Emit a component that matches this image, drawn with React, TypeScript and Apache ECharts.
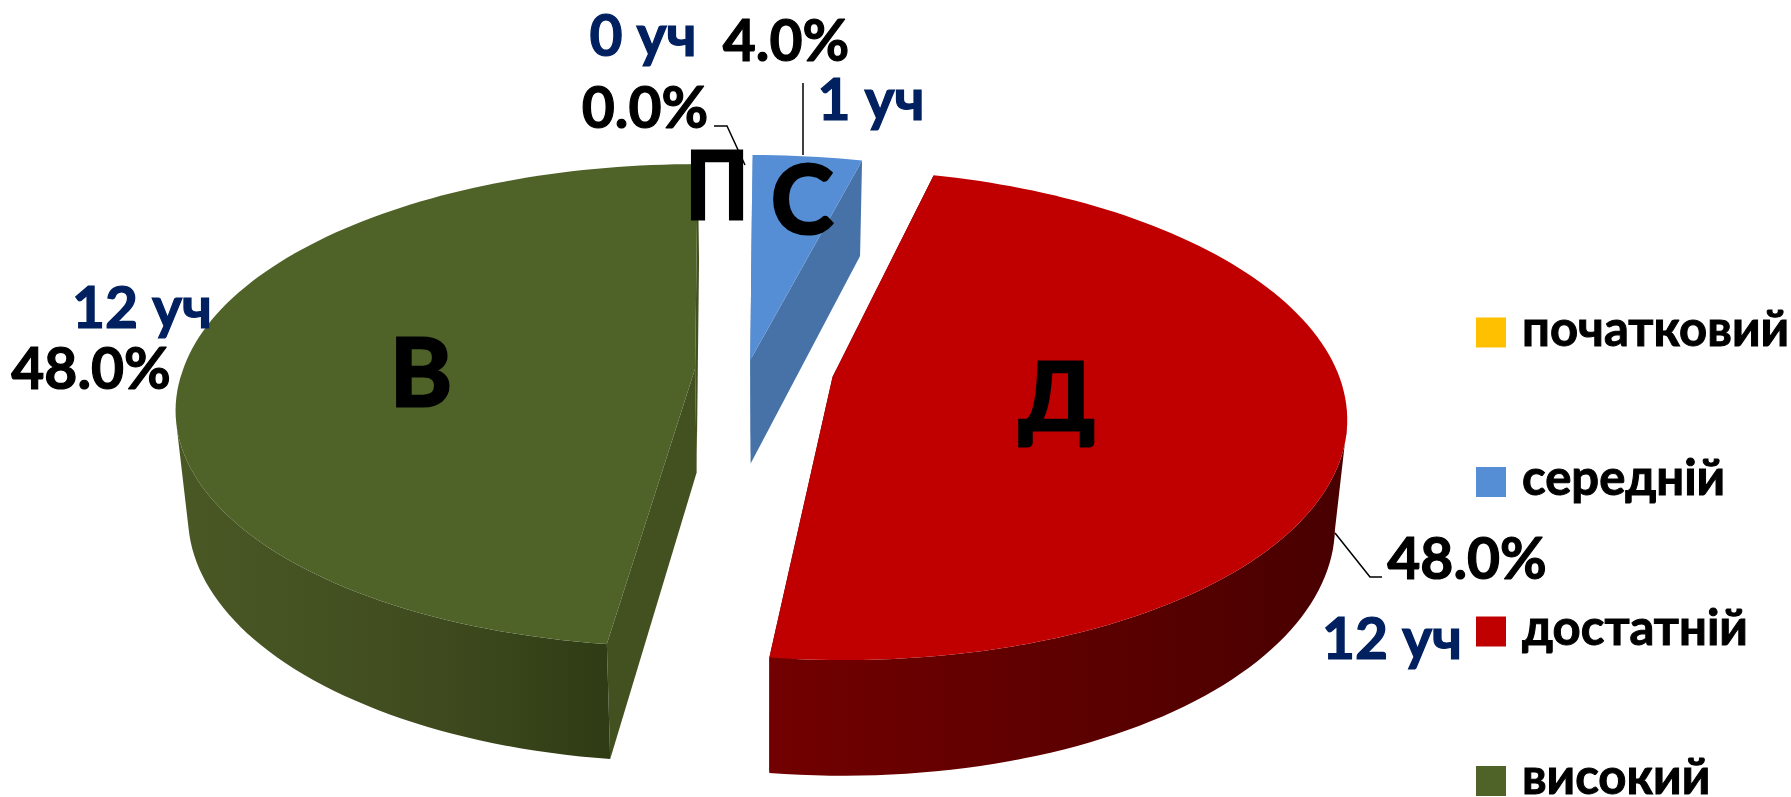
import React, { useEffect, useRef } from "react";
import * as echarts from "echarts";

const categories = ["високий", "достатній", "середній", "початковий"];
const legendOrder = ["початковий", "середній", "достатній", "високий"];
const counts = [12, 12, 1, 0];
const letters = ["В", "Д", "С", "П"];
const unit = "уч";

const FONT = "Lato, 'Open Sans', 'Noto Sans', sans-serif";
const NAVY = "#002060";
const colors = ["#4F6228", "#C00000", "#558ED5", "#FFC000"];
const faceColors = ["#435020", "#5a0000", "#4672A8", "#B38600"];
const wallStops: [string, string, string][] = [
  ["#4A5825", "#3F4B1E", "#2F3B14"],
  ["#720000", "#600000", "#480000"],
  ["#4672A8", "#4672A8", "#4672A8"],
  ["#B38600", "#B38600", "#B38600"],
];
// Placement of each exploded slice on the disc (radius units), its size factors and lean in px
const explode = [
  { du: -0.141, dv: -0.01, scaleU: 1.005, scaleV: 0.985, lean: 7 },
  { du: 0.128, dv: 0.025, scaleU: 0.99, scaleV: 0.99, lean: 0 },
  { du: -0.033, dv: -0.046, scaleU: 1, scaleV: 1, lean: 0 },
  { du: -0.05, dv: -0.04, scaleU: 1, scaleV: 1, lean: 0 },
];
const letterPos = [
  [421, 369],
  [1057, 393],
  [802, 196],
  [717, 183],
];
const letterScaleX = [1, 1, 1, 0.9];
const percentPos = [
  [91, 367],
  [1467, 557],
  [786, 39],
  [645, 106],
];
const countPos = [
  [142, 306],
  [1392, 637],
  [871, 98],
  [643, 34],
];
const leaders: number[][][] = [
  [],
  [[1335, 533], [1370, 577], [1382, 577]],
  [[803, 83], [803, 155]],
  [[714, 126], [727, 126], [745, 165]],
];

const CX = 767;
const CY = 371;
const R = 510;
const RY = 240;
const P = 0.155;

function project(u: number, v: number, bottom: boolean, lean: number): number[] {
  const s = 1 / (1 - P * v);
  let x = CX + R * u * s;
  let y = CY + RY * v * s;
  if (bottom) {
    y += 104 * (0.4 + 0.6 * s);
    x = CX + (x - CX) * 0.979;
  }
  x -= lean * Math.max(0, -v);
  return [x, y];
}

const total = counts.reduce((a, b) => a + b, 0);

function makeRender(idx: number) {
  return (_params: any, api: any) => {
    const value = api.value(0) as number;
    // clockwise from the top: початковий, середній, достатній, високий
    const order = [3, 2, 1, 0];
    let before = 0;
    for (const k of order) {
      if (k === idx) break;
      before += counts[k];
    }
    const a0 = (before / total) * Math.PI * 2;
    const a1 = ((before + value) / total) * Math.PI * 2;
    const { du, dv, scaleU, scaleV, lean } = explode[idx];
    const arcTop: number[][] = [];
    const wallA: number[][] = [];
    const wallB: number[][] = [];
    const steps = Math.max(2, Math.ceil(((a1 - a0) / Math.PI) * 120));
    for (let i = 0; i <= steps; i++) {
      const a = a0 + ((a1 - a0) * i) / steps;
      const u = Math.sin(a) * scaleU;
      const v = -Math.cos(a) * scaleV;
      arcTop.push(project(u + du, v + dv, false, lean));
      if (v + dv > 0.2) {
        wallA.push(project(u + du, v + dv, false, lean));
        wallB.push(project(u + du, v + dv, true, lean));
      }
    }
    const apex = project(du, dv, false, lean);
    const apexB = project(du, dv, true, lean);
    const children: any[] = [];
    if (value > 0) {
      const edge = (a: number) => {
        const u = Math.sin(a) * scaleU + du;
        const v = -Math.cos(a) * scaleV + dv;
        return [project(u, v, false, lean), project(u, v, true, lean)];
      };
      const [s0, s0b] = edge(a0);
      const [e0, e0b] = edge(a1);
      [
        [apex, s0, s0b, apexB],
        [apex, e0, e0b, apexB],
      ].forEach((pts) =>
        children.push({
          type: "polygon",
          shape: { points: pts },
          style: { fill: faceColors[idx] },
        })
      );
      if (wallA.length > 1) {
        const st = wallStops[idx];
        children.push({
          type: "polygon",
          shape: { points: wallA.concat(wallB.slice().reverse()) },
          style: {
            fill: new echarts.graphic.LinearGradient(0, 0, 1, 0, [
              { offset: 0, color: st[0] },
              { offset: idx === 0 ? 0.6 : 0.45, color: st[1] },
              { offset: 1, color: st[2] },
            ]),
          },
        });
      }
      children.push({
        type: "polygon",
        shape: { points: [apex].concat(arcTop) },
        style: { fill: colors[idx] },
      });
    }
    if (leaders[idx].length) {
      children.push({
        type: "polyline",
        shape: { points: leaders[idx] },
        style: { stroke: "#000", lineWidth: 1.5, fill: "none" },
      });
    }
    const text = (
      t: string,
      pos: number[],
      size: number,
      fill: string,
      weight: number,
      scaleX: number
    ) => ({
      type: "text",
      x: pos[0],
      y: pos[1],
      scaleX,
      style: {
        text: t,
        fill,
        stroke: fill,
        lineWidth: weight,
        font: `bold ${size}px ${FONT}`,
        align: "center",
        verticalAlign: "middle",
      },
    });
    children.push(
      text(((value / total) * 100).toFixed(1) + "%", percentPos[idx], 57, "#000", 1.2, 1)
    );
    children.push(text(`${value} ${unit}`, countPos[idx], 57, NAVY, 1.2, 1));
    children.push(text(letters[idx], letterPos[idx], 94, "#000", 3, letterScaleX[idx]));
    return { type: "group", children };
  };
}

export default function App() {
  const ref = useRef<HTMLDivElement>(null);
  useEffect(() => {
    document.body.style.margin = "0";
    const chart = echarts.init(ref.current!, undefined, { renderer: "svg" });
    chart.setOption({
      animation: false,
      backgroundColor: "#fff",
      legend: {
        orient: "vertical",
        left: 1476,
        top: 301.5,
        width: 315,
        height: 780,
        padding: 0,
        itemWidth: 30,
        itemHeight: 30,
        itemGap: 88,
        icon: "rect",
        data: legendOrder,
        formatter: "{t|{name}}",
        textStyle: {
          rich: {
            t: {
              fontFamily: FONT,
              fontWeight: "bold",
              fontSize: 49,
              color: "#000",
              textBorderColor: "#000",
              textBorderWidth: 1,
              lineHeight: 40,
              padding: [0, 0, 12, 11],
            },
          },
        },
      },
      series: categories.map((name, i) => ({
        type: "custom",
        name,
        coordinateSystem: "none",
        silent: true,
        itemStyle: { color: colors[i] },
        data: [[counts[i]]],
        renderItem: makeRender(i),
      })),
    });
    return () => chart.dispose();
  }, []);
  return <div ref={ref} style={{ width: 1791, height: 797 }} />;
}
